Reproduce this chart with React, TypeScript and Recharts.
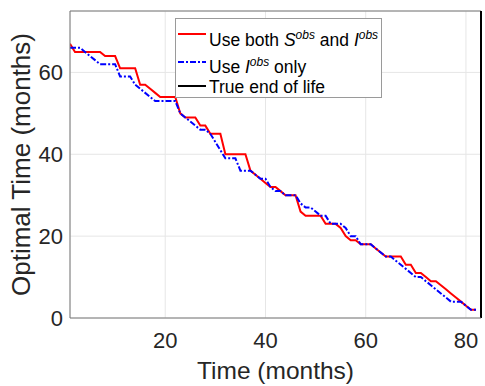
import { LineChart, Line, XAxis, YAxis, CartesianGrid, ReferenceLine, Legend } from 'recharts';

const months = [
  1, 2, 3, 4, 5, 6, 7, 8, 9, 10, 11, 12, 13, 14, 15, 16, 17, 18, 19, 20,
  21, 22, 23, 24, 25, 26, 27, 28, 29, 30, 31, 32, 33, 34, 35, 36, 37, 38, 39, 40,
  41, 42, 43, 44, 45, 46, 47, 48, 49, 50, 51, 52, 53, 54, 55, 56, 57, 58, 59, 60,
  61, 62, 63, 64, 65, 66, 67, 68, 69, 70, 71, 72, 73, 74, 75, 76, 77, 78, 79, 80,
  81, 82,
];

// optimal time using both S^obs and I^obs
const bothObs = [
  67, 65, 65, 65, 65, 65, 65, 64, 64, 64, 61, 61, 61, 61, 57, 57, 56, 55, 54, 54,
  54, 54, 50, 49, 49, 49, 47, 47, 45, 45, 45, 40, 40, 40, 40, 40, 36, 35, 34, 33,
  32, 32, 31, 30, 30, 30, 26, 25, 25, 25, 25, 23, 23, 23, 22, 20, 19, 19, 18, 18,
  18, 17, 16, 15, 15, 15, 15, 13, 13, 11, 11, 10, 9, 9, 8, 7, 6, 5, 4, 3,
  2, 2,
];

// optimal time using I^obs only
const iObsOnly = [
  66, 66, 66, 65, 64, 63, 62, 62, 62, 62, 59, 59, 59, 57, 56, 55, 54, 53, 53, 53,
  53, 53, 50, 49, 48, 47, 46, 46, 45, 43, 41, 39, 39, 39, 36, 36, 36, 35, 34, 34,
  32, 31, 31, 30, 30, 30, 28, 27, 27, 26, 25, 25, 23, 23, 23, 22, 20, 20, 18, 18,
  18, 17, 16, 15, 15, 14, 13, 12, 11, 10, 10, 9, 8, 7, 6, 5, 4, 4, 4, 3,
  2, 2,
];

const endOfLife = 83;
const xTicks = [20, 40, 60, 80];
const yTicks = [0, 20, 40, 60];

const data = months.map((m, i) => ({ month: m, both: bothObs[i], iOnly: iObsOnly[i] }));

const FONT = '"Liberation Sans", Arial, sans-serif';
const TEXT = '#262626';

const sup = { fontSize: 12 };

const LegendBox = () => (
  <div
    style={{
      width: 205,
      height: 78,
      border: '1px solid #9a9a9a',
      background: '#fff',
      fontFamily: FONT,
      fontSize: 17.5,
      color: '#000',
      position: 'relative',
    }}
  >
    {[
      { y: 15, shift: 3, stroke: '#ff0000', dash: undefined, label: (
        <>Use both <i>S</i><sup style={sup}><i>obs</i></sup> and <i>I</i><sup style={sup}><i>obs</i></sup></>
      ) },
      { y: 43, shift: 2, stroke: '#0000ff', dash: '6 2 2 2', label: (
        <>Use <i>I</i><sup style={sup}><i>obs</i></sup> only</>
      ) },
      { y: 67, shift: 1, stroke: '#000', dash: undefined, label: <>True end of life</> },
    ].map((row, i) => (
      <div key={i} style={{ position: 'absolute', left: 0, top: row.y - 12, height: 24, display: 'flex', alignItems: 'center', whiteSpace: 'nowrap' }}>
        <svg width={32} height={24} style={{ flex: 'none' }}>
          <line x1={2} x2={30} y1={12} y2={12} stroke={row.stroke} strokeWidth={2} strokeDasharray={row.dash} />
        </svg>
        <span style={{ marginLeft: 1, lineHeight: '20px', position: 'relative', top: row.shift }}>{row.label}</span>
      </div>
    ))}
  </div>
);

export default function App() {
  return (
    <div style={{ position: 'absolute', left: 0, top: 0, background: '#fff' }}>
      <LineChart width={485} height={386} data={data} margin={{ top: 11, right: 4, left: 0, bottom: 0 }}>
        <CartesianGrid stroke="#e6e6e6" strokeWidth={1} />
        <XAxis
          type="number"
          dataKey="month"
          domain={[1, 83]}
          ticks={xTicks}
          allowDataOverflow
          height={68}
          tickLine={false}
          tickSize={0}
          tickMargin={14}
          axisLine={{ stroke: '#777' }}
          tick={{ fill: TEXT, fontSize: 22, fontFamily: FONT }}
          label={{ value: 'Time (months)', position: 'insideBottom', offset: 7, fill: TEXT, fontSize: 24.5, fontFamily: FONT }}
        />
        <YAxis
          type="number"
          domain={[0, 75]}
          ticks={yTicks}
          allowDataOverflow
          width={70}
          tickLine={false}
          tickSize={0}
          tickMargin={7}
          axisLine={{ stroke: '#777' }}
          tick={{ fill: TEXT, fontSize: 22, fontFamily: FONT }}
          label={{ value: 'Optimal Time (months)', angle: -90, position: 'insideLeft', offset: 21, fill: TEXT, fontSize: 26, fontFamily: FONT, style: { textAnchor: 'middle' } }}
        />
        <ReferenceLine y={75} stroke="#777" strokeWidth={1} />
        <Line type="linear" dataKey="both" stroke="#ff0000" strokeWidth={2} dot={false} isAnimationActive={false} />
        <Line type="linear" dataKey="iOnly" stroke="#0000ff" strokeWidth={2} strokeDasharray="6 2 2 2" dot={false} isAnimationActive={false} />
        <ReferenceLine x={endOfLife} stroke="#000" strokeWidth={2} />
        <Legend
          layout="horizontal"
          align="center"
          verticalAlign="middle"
          content={() => <LegendBox />}
          wrapperStyle={{ top: 18, left: 175, width: 207, height: 80 }}
        />
      </LineChart>
    </div>
  );
}
